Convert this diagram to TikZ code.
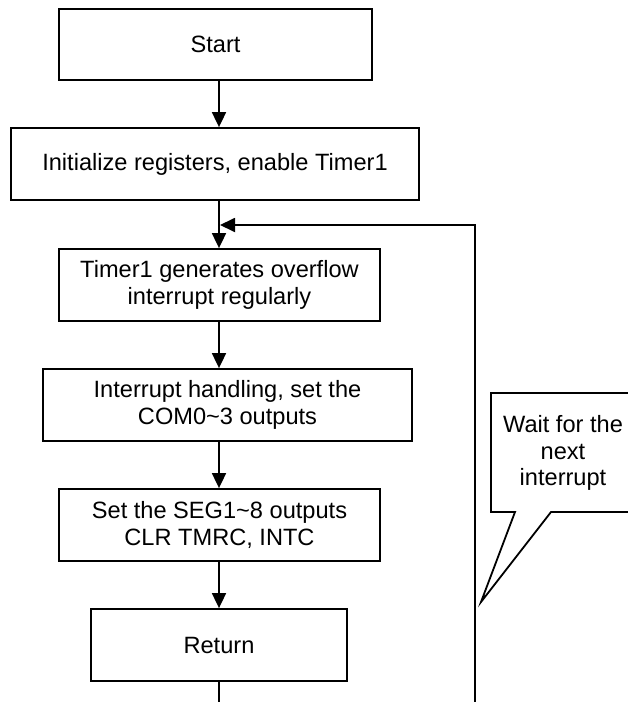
\documentclass[tikz,border=0pt]{standalone}
\usepackage{fontspec}
\setmainfont{Liberation Sans}
\usetikzlibrary{arrows.meta}
\begin{document}
\begin{tikzpicture}[x=1pt,y=-1pt,
  line width=1.8pt,
  box/.style={draw=black,rectangle,inner sep=0pt,align=center,
    font=\fontsize{23.6}{27.5}\selectfont},
  arr/.style={-{Triangle[length=15pt,width=14pt]}}]
\useasboundingbox (0,0) rectangle (628,702);
\clip (0,0) rectangle (628,702);
\fill[white] (0,0) rectangle (628,702);
\coordinate (cx) at (219,0);
\node[box,minimum width=313pt,minimum height=71.5pt] (start) at (215.5,44.5) {Start};
\node[box,minimum width=408pt,minimum height=72pt] (init) at (215,164) {Initialize registers, enable Timer1};
\node[box,minimum width=321pt,minimum height=72pt] (timer) at (219.5,285) {Timer1 generates overflow\\interrupt regularly};
\node[box,minimum width=369pt,minimum height=72pt] (intr) at (227.5,405) {Interrupt handling, set the\\COM0\textasciitilde3 outputs};
\node[box,minimum width=321pt,minimum height=72pt] (seg) at (219.5,525) {Set the SEG1\textasciitilde8 outputs\\CLR TMRC, INTC};
\node[box,minimum width=256pt,minimum height=72pt] (ret) at (219,645) {Return};
\draw[arr] (start.south -| cx) -- (init.north -| cx);
\draw[arr] (init.south -| cx) -- (timer.north -| cx);
\draw[arr] (timer.south -| cx) -- (intr.north -| cx);
\draw[arr] (intr.south -| cx) -- (seg.north -| cx);
\draw[arr] (seg.south -| cx) -- (ret.north -| cx);
\coordinate (endc) at (219,703);
\draw (ret.south -| cx) -- (endc);
\coordinate (fb) at (220,225);
\coordinate (rb) at (475,703);
\draw[arr] (rb) |- (fb);
% callout
\coordinate (c1) at (640,512);
\coordinate (c2) at (551,512);
\coordinate (tip) at (481,602);
\coordinate (c3) at (515,512);
\coordinate (c4) at (491,512);
\coordinate (c5) at (491,393);
\coordinate (c6) at (640,393);
\draw[line join=miter] (c1) -- (c2) -- (tip) -- (c3) -- (c4) -- (c5) -- (c6);
\node[align=center,inner sep=0pt,font=\fontsize{23.6}{26.5}\selectfont] (wait) at (563,453) {Wait for the\\next\\interrupt};
\end{tikzpicture}
\end{document}
